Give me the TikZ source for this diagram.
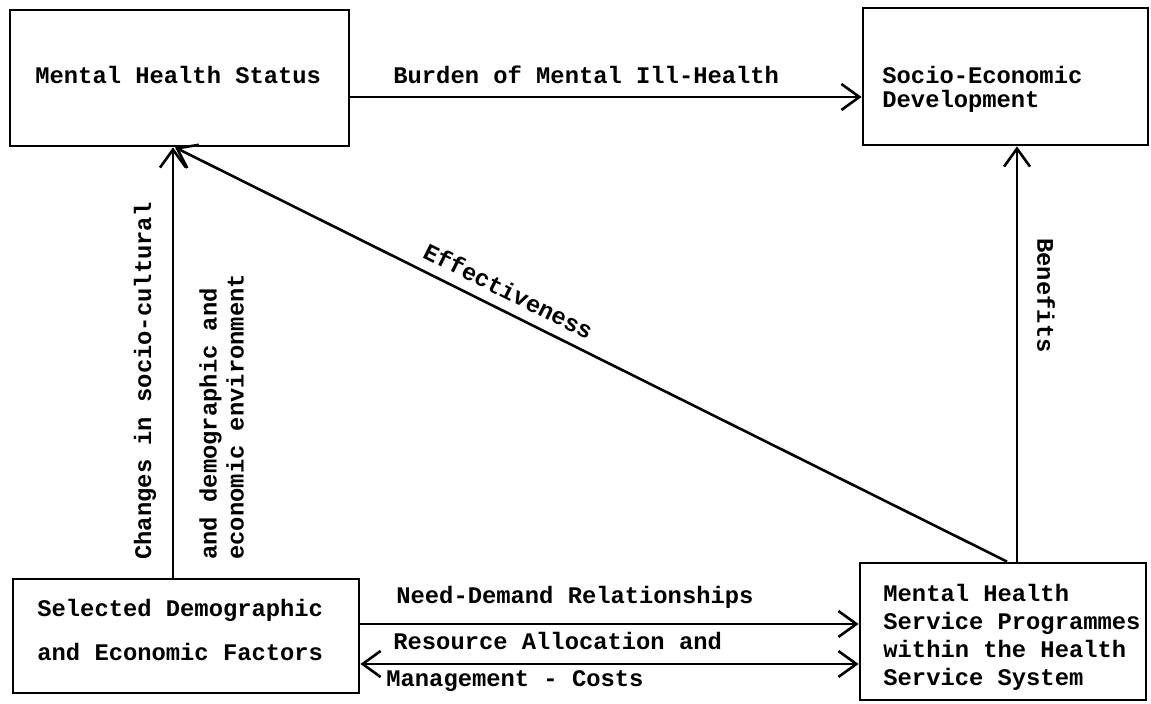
\documentclass[tikz,border=0pt]{standalone}
\usepackage{fontspec}
\newfontfamily\tw{Liberation Mono}
\usetikzlibrary{arrows.meta}
\begin{document}
\begin{tikzpicture}[x=0.5pt,y=-0.5pt,
  box/.style={draw, line width=1.4pt, inner sep=0pt, rectangle},
  txt/.style={font=\tw\bfseries\fontsize{11.9}{14}\selectfont, inner sep=0pt, anchor=west, align=left},
  arr/.style={line width=1.3pt, -{Straight Barb[length=9pt,width=13pt,line width=1.3pt]}},
  arrb/.style={line width=1.3pt, {Straight Barb[length=9pt,width=13pt,line width=1.3pt]}-{Straight Barb[length=9pt,width=13pt,line width=1.3pt]}}]
\useasboundingbox (0,0) rectangle (1151,704);
\fill[white] (0,0) rectangle (1151,704);

% boxes
\node[box, minimum width=169.5pt, minimum height=68pt] (mhs) at (179.5,78) {};
\node[box, minimum width=142.5pt, minimum height=68.5pt] (sed) at (1005.5,76.5) {};
\node[box, minimum width=173pt, minimum height=57pt] (sde) at (186,636) {};
\node[box, minimum width=143pt, minimum height=68.5pt] (mhsp) at (1003,631.5) {};

% box texts
\node[txt] (tmhs) at (35,75) {Mental Health Status};
\node[txt, font=\tw\bfseries\fontsize{11.9}{12}\selectfont] (tsed) at (882,89) {Socio-Economic\\Development};
\node[txt, font=\tw\bfseries\fontsize{11.9}{22}\selectfont] (tsde) at (37,630) {Selected Demographic\\and Economic Factors};
\node[txt] (tmhsp) at (883,637.5) {Mental Health\\Service Programmes\\within the Health\\Service System};

% connectors
\draw[arr] (mhs.east |- 0,97) -- (sed.west |- 0,97);
\draw[arr] (sde.north -| 173,0) -- (mhs.south -| 173,0);
\draw[arr] (mhsp.north -| 1007,0) -- (mhs.south -| 175,0)
  node[txt, anchor=south, sloped, pos=0.61, yshift=5pt] (teff) {Effectiveness};
\draw[arr] (mhsp.north -| 1017,0) -- (sed.south -| 1017,0);
\draw[arr] (sde.east |- 0,624) -- (mhsp.west |- 0,624);
\draw[arrb] (sde.east |- 0,664) -- (mhsp.west |- 0,664);

% connector labels
\node[txt] (tburden) at (393,75) {Burden of Mental Ill-Health};
\node[txt] (tneed) at (396,597) {Need-Demand Relationships};
\node[txt] (tres) at (393,641) {Resource Allocation and};
\node[txt] (tman) at (386,681) {Management - Costs};
\node[txt, rotate=90] (tchg) at (145,560) {Changes in socio-cultural};
\node[txt, rotate=90, font=\tw\bfseries\fontsize{11.9}{13.5}\selectfont] (tdem) at (221.5,560) {and demographic and\\economic environment};
\node[txt, rotate=-90] (tben) at (1046,238) {Benefits};
\end{tikzpicture}
\end{document}
